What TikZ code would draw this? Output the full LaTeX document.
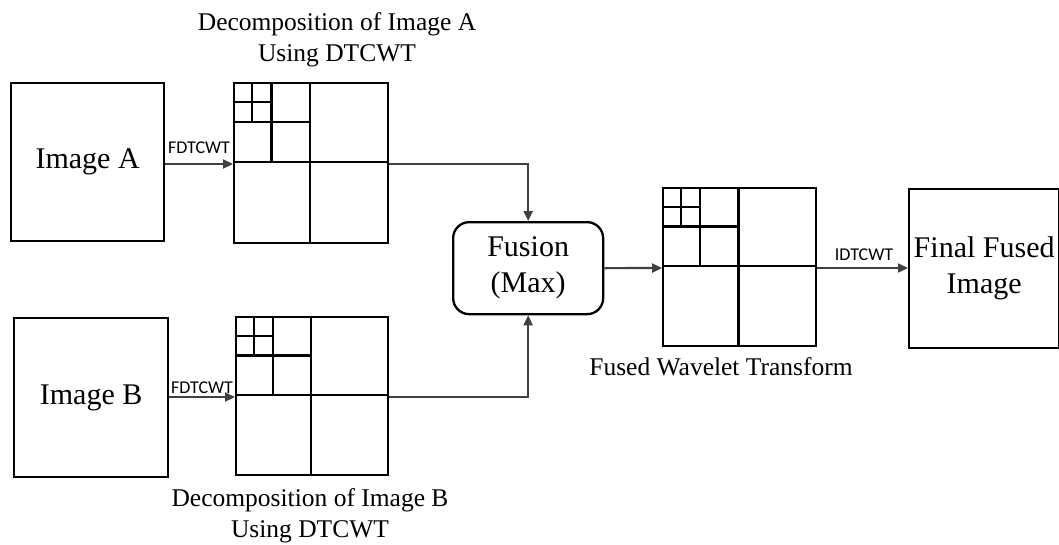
\documentclass[tikz,border=0pt]{standalone}
\usepackage{fontspec}
\setmainfont{Liberation Serif}
\newfontfamily\calib{Carlito}
\usetikzlibrary{arrows.meta,calc}
\definecolor{arrowgray}{HTML}{404040}
\tikzset{
  boxline/.style={draw=black, line width=2.3pt},
  plainbox/.style={boxline, rectangle, inner sep=0pt, anchor=north west},
  bigtext/.style={font=\fontsize{30}{36}\selectfont, align=center},
  labeltext/.style={font=\fontsize{25.5}{31}\selectfont, align=center, inner sep=0pt},
  optext/.style={font=\calib\fontsize{18}{20}\selectfont, inner sep=0pt},
  conn/.style={draw=arrowgray, line width=2.2pt, -{Triangle[length=10pt,width=9pt]}},
}
\newcommand\subbands[4]{%
  \draw[boxline] ({#1+#3/2},#2) -- ({#1+#3/2},{#2+#4})
    (#1,{#2+#4/2}) -- ({#1+#3},{#2+#4/2})
    ({#1+#3/4},#2) -- ({#1+#3/4},{#2+#4/2})
    (#1,{#2+#4/4}) -- ({#1+#3/2},{#2+#4/4})
    ({#1+#3/8},#2) -- ({#1+#3/8},{#2+#4/4})
    (#1,{#2+#4/8}) -- ({#1+#3/4},{#2+#4/8});}
\begin{document}
\begin{tikzpicture}[x=1pt,y=-1pt]
\useasboundingbox (0,0) rectangle (1059,544);
% input images
\node[plainbox, minimum width=153pt, minimum height=158pt] (imA) at (10,82) {};
\node[bigtext] at (imA.center) (imAt) {Image A};
\node[plainbox, minimum width=154pt, minimum height=159pt] (imB) at (13,317) {};
\node[bigtext] at (imB.center) (imBt) {Image B};
% decompositions
\node[plainbox, minimum width=154pt, minimum height=160pt] (gA) at (233,82) {};
\subbands{233}{82}{154}{160}
\node[plainbox, minimum width=152pt, minimum height=158pt] (gB) at (235,316) {};
\subbands{235}{316}{152}{158}
\node[plainbox, minimum width=153pt, minimum height=158pt] (gF) at (662,187) {};
\subbands{662}{187}{153}{158}
% fusion
\node[plainbox, rounded corners=16pt, minimum width=150pt, minimum height=92pt] (fus) at (452,221) {};
\node[bigtext] at (fus.center) (fust) {Fusion\\(Max)};
% final
\node[plainbox, minimum width=150pt, minimum height=159pt] (fin) at (908,188) {};
\node[bigtext] at (fin.center) (fint) {Final Fused\\Image};
% labels
\node[labeltext, anchor=north] (labA) at (337,12) {Decomposition of Image A\\Using DTCWT};
\node[labeltext, anchor=north] (labB) at (310,488) {Decomposition of Image B\\Using DTCWT};
\node[labeltext, anchor=base] (labF) at (721,375) {Fused Wavelet Transform};
% connectors
\coordinate (aIn) at (233,164);
\coordinate (bIn) at (235,397);
\draw[conn] (imA.east |- aIn) -- (aIn);
\draw[conn] (imB.east |- bIn) -- (bIn);
\node[optext, anchor=base] (fdA) at (199,153) {FDTCWT};
\node[optext, anchor=base] (fdB) at (202,393) {FDTCWT};
\draw[conn] (gA.east |- aIn) -| (fus.north);
\draw[conn] (gB.east |- bIn) -| (fus.south);
\coordinate (fIn) at (662,268);
\draw[conn] (fus.east) -- (fIn);
\draw[conn] (gF.east |- fIn) -- (fin.west |- fIn);
\node[optext, anchor=base] (idt) at (864,260) {IDTCWT};
\end{tikzpicture}
\end{document}
